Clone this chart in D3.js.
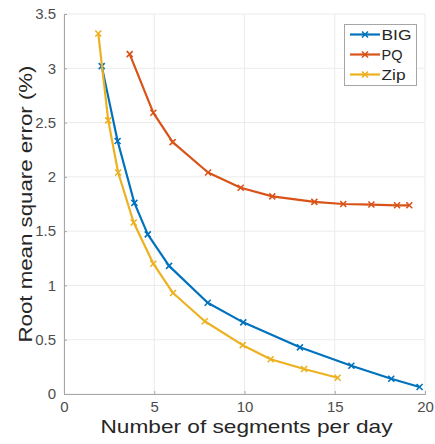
<!DOCTYPE html>
<html>
<head>
<meta charset="utf-8">
<script src="https://cdn.jsdelivr.net/npm/d3@7"></script>
<style>
  body { margin: 0; background: #fff; }
  text { font-family: "Liberation Sans", Arial, sans-serif; }
</style>
</head>
<body>
<script>
// data
var seriesNames = ['BIG', 'PQ', 'Zip'];
var seriesColors = ['#0072BD', '#D95319', '#EDB120'];

var bigX = [2.09, 2.97, 3.9, 4.64, 5.82, 7.96, 9.93, 13.07, 15.92, 18.13, 19.7];
var bigY = [3.02, 2.33, 1.76, 1.47, 1.18, 0.84, 0.66, 0.43, 0.26, 0.14, 0.064];

var pqX = [3.64, 4.95, 6.02, 7.98, 9.79, 11.54, 13.87, 15.47, 17.03, 18.45, 19.13];
var pqY = [3.13, 2.59, 2.32, 2.04, 1.90, 1.82, 1.77, 1.75, 1.745, 1.738, 1.738];

var zipX = [1.9, 2.45, 3.0, 3.86, 4.95, 6.04, 7.8, 9.9, 11.45, 13.3, 15.16];
var zipY = [3.32, 2.52, 2.04, 1.58, 1.20, 0.93, 0.67, 0.45, 0.32, 0.23, 0.15];

var xTicks = [0, 5, 10, 15, 20];
var yTicks = [0, 0.5, 1, 1.5, 2, 2.5, 3, 3.5];

var w = 435, h = 444;
var plotL = 64, plotR = 425, plotT = 14, plotB = 394;

var svg = d3.select('body').append('svg')
  .attr('width', w).attr('height', h);

var x = d3.scaleLinear().domain([0, 20]).range([plotL, plotR]);
var y = d3.scaleLinear().domain([0, 3.5]).range([plotB, plotT]);

// grid
svg.append('g').selectAll('line').data(xTicks).enter().append('line')
  .attr('x1', function(d) { return x(d); }).attr('x2', function(d) { return x(d); })
  .attr('y1', plotT).attr('y2', plotB)
  .attr('stroke', '#ebebeb').attr('stroke-width', 1);
svg.append('g').selectAll('line').data(yTicks).enter().append('line')
  .attr('y1', function(d) { return y(d); }).attr('y2', function(d) { return y(d); })
  .attr('x1', plotL).attr('x2', plotR)
  .attr('stroke', '#ebebeb').attr('stroke-width', 1);

// axes
var xAxis = d3.axisBottom(x).tickValues(xTicks).tickSize(-3).tickPadding(7)
  .tickFormat(d3.format('d'));
var yAxis = d3.axisLeft(y).tickValues(yTicks).tickSize(-3).tickPadding(8)
  .tickFormat(function(d) { return String(d); });

var gx = svg.append('g').attr('transform', 'translate(0,' + plotB + ')').call(xAxis);
var gy = svg.append('g').attr('transform', 'translate(' + plotL + ',0)').call(yAxis);

[gx, gy].forEach(function(g) {
  g.select('.domain').attr('stroke', '#a6a6a6');
  g.selectAll('.tick line').attr('stroke', '#a6a6a6');
  g.selectAll('.tick text').attr('fill', '#4d4d4d')
    .style('font-size', '15px').style('font-family', '"Liberation Sans", Arial, sans-serif');
});

// axis titles (reference glyphs are a bit stretched horizontally)
svg.append('text')
  .attr('x', (plotL + plotR) / 2 + 2).attr('y', 433)
  .attr('text-anchor', 'middle')
  .attr('fill', '#262626')
  .style('font-size', '19px')
  .attr('textLength', 292)
  .attr('lengthAdjust', 'spacingAndGlyphs')
  .text('Number of segments per day');

svg.append('text')
  .attr('transform', 'translate(32,' + (plotT + plotB) / 2 + ') rotate(-90)')
  .attr('text-anchor', 'middle')
  .attr('fill', '#262626')
  .style('font-size', '19px')
  .attr('textLength', 277)
  .attr('lengthAdjust', 'spacingAndGlyphs')
  .text('Root mean square error (%)');

// series
var allSeries = [
  {name: seriesNames[0], color: seriesColors[0], xs: bigX, ys: bigY, tl: 30},
  {name: seriesNames[1], color: seriesColors[1], xs: pqX, ys: pqY, tl: 21},
  {name: seriesNames[2], color: seriesColors[2], xs: zipX, ys: zipY, tl: 24}
];

var line = d3.line()
  .x(function(d) { return x(d[0]); })
  .y(function(d) { return y(d[1]); });

var m = 3;
allSeries.forEach(function(s) {
  var pts = s.xs.map(function(v, i) { return [v, s.ys[i]]; });
  var g = svg.append('g');
  g.append('path').datum(pts)
    .attr('d', line)
    .attr('fill', 'none')
    .attr('stroke', s.color)
    .attr('stroke-width', 2.2)
    .attr('stroke-linejoin', 'round');
  g.selectAll('path.mk').data(pts).enter().append('path')
    .attr('class', 'mk')
    .attr('d', function(d) {
      var cx = x(d[0]), cy = y(d[1]);
      return 'M' + (cx - m) + ',' + (cy - m) + 'L' + (cx + m) + ',' + (cy + m) +
             'M' + (cx - m) + ',' + (cy + m) + 'L' + (cx + m) + ',' + (cy - m);
    })
    .attr('stroke', s.color)
    .attr('stroke-width', 1.6)
    .attr('fill', 'none');
});

// legend
var lg = svg.append('g');
lg.append('rect')
  .attr('x', 344.5).attr('y', 24.5).attr('width', 72).attr('height', 61)
  .attr('fill', '#fff').attr('stroke', '#a6a6a6').attr('stroke-width', 1);

allSeries.forEach(function(s, i) {
  var ly = 34.5 + i * 20;
  lg.append('line')
    .attr('x1', 350).attr('x2', 380).attr('y1', ly).attr('y2', ly)
    .attr('stroke', s.color).attr('stroke-width', 2.2);
  lg.append('path')
    .attr('d', 'M' + (365 - m) + ',' + (ly - m) + 'L' + (365 + m) + ',' + (ly + m) +
               'M' + (365 - m) + ',' + (ly + m) + 'L' + (365 + m) + ',' + (ly - m))
    .attr('stroke', s.color).attr('stroke-width', 1.6);
  lg.append('text')
    .attr('x', 381.5).attr('y', ly + 5.5)
    .attr('fill', '#262626')
    .style('font-size', '15.5px')
    .attr('textLength', s.tl)
    .attr('lengthAdjust', 'spacingAndGlyphs')
    .text(s.name);
});
</script>
</body>
</html>
